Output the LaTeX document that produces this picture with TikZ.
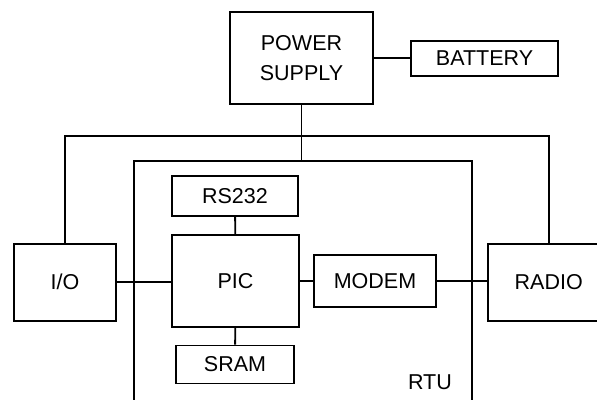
\documentclass[tikz,border=0pt]{standalone}
\usepackage{fontspec}
\setmainfont{Liberation Sans}
\begin{document}
\begin{tikzpicture}[x=1pt, y=-1pt, line width=1.8pt,
    blk/.style={draw, rectangle, align=center, font=\fontsize{21.5}{30}\selectfont}]
    \useasboundingbox (0,0) rectangle (597,399);
    \clip (0,0) rectangle (597,399);
    % Blocks
    \node[blk, minimum width=143pt, minimum height=92pt] (ps) at (301.5, 58.3) {POWER\\SUPPLY};
    \node[blk, minimum width=147pt, minimum height=35pt] (bat) at (484.5, 58.4) {BATTERY};
    \node[blk, minimum width=102pt, minimum height=77pt] (io) at (65, 282.3) {I/O};
    \node[blk, minimum width=127pt, minimum height=92pt] (pic) at (235.5, 281.2) {PIC};
    \node[blk, minimum width=126pt, minimum height=40pt] (rs) at (235, 196.2) {RS232};
    \node[blk, minimum width=118pt, minimum height=38pt] (sram) at (235, 364.5) {SRAM};
    \node[blk, minimum width=122pt, minimum height=52pt] (modem) at (375, 281.3) {MODEM};
    \node[blk, minimum width=122pt, minimum height=77pt] (radio) at (548.7, 282.3) {RADIO};
    
    % RTU enclosure (open at the bottom)
    \draw (133.7, 420) -- (133.7, 161) coordinate (rtutop) -- (472, 161) -- (472, 420);
    \node[font=\fontsize{21.5}{25}\selectfont] (rtu) at (430, 382) {RTU};
    
    % Power bus
    \coordinate (bus) at (ps.south |- 0, 135.7);
    \draw (ps.east) -- (ps.east -| bat.west);
    \draw (ps.south) -- (ps.south |- rtutop);
    \draw (io.north) |- (bus) -| (radio.north);
    
    % Signal links
    \draw (io.east) -- (io.east -| pic.west);
    \draw (pic.east) -- (pic.east -| modem.west);
    \draw (modem.east) -- (modem.east -| radio.west);
    \draw (rs) -- (pic);
    \draw (pic) -- (sram);
\end{tikzpicture}
\end{document}
